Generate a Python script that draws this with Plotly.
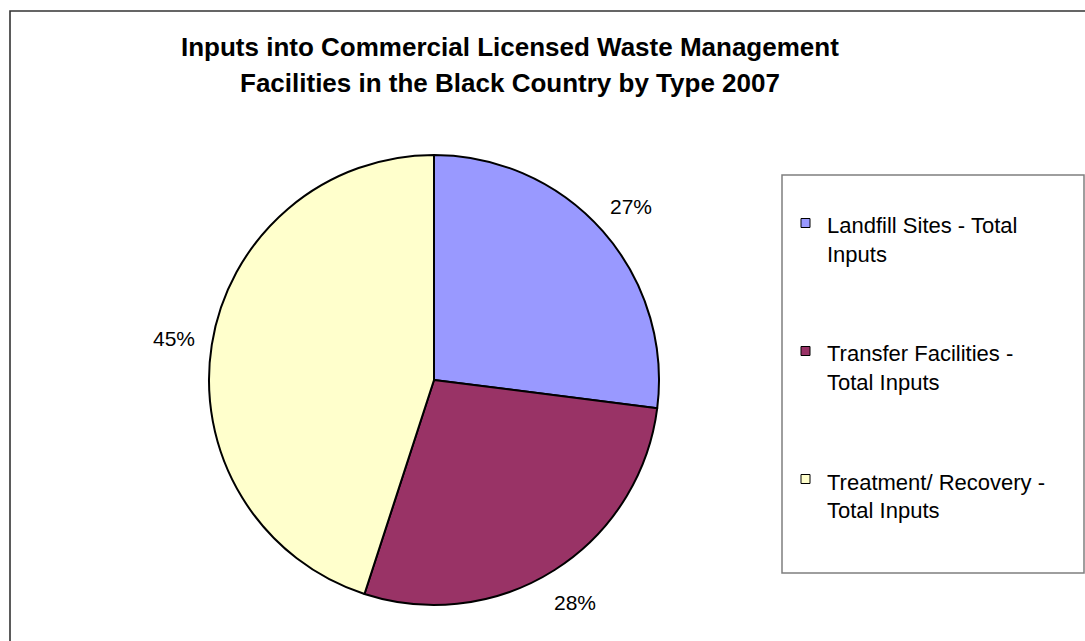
import math
import plotly.graph_objects as go

# Data
categories = [
    "Landfill Sites - Total Inputs",
    "Transfer Facilities - Total Inputs",
    "Treatment/ Recovery - Total Inputs",
]
legend_lines = [
    ["Landfill Sites - Total", "Inputs"],
    ["Transfer Facilities -", "Total Inputs"],
    ["Treatment/ Recovery -", "Total Inputs"],
]
shares = [27, 28, 45]
colors = ["#9999FF", "#993366", "#FFFFCC"]
title_lines = [
    "Inputs into Commercial Licensed Waste Management",
    "Facilities in the Black Country by Type 2007",
]

# Layout geometry (pixels, y measured from the top)
W, H = 1085, 641
cx, cy, R = 434, 380, 225
label_r = 263
FONT = "Liberation Sans, Arial, sans-serif"


def px(x):
    return x / W


def py(y):
    return 1 - y / H


fig = go.Figure(
    go.Pie(
        labels=categories,
        values=shares,
        sort=False,
        direction="clockwise",
        rotation=0,
        marker=dict(colors=colors, line=dict(color="black", width=2)),
        textinfo="none",
        hoverinfo="label+percent",
        domain=dict(x=[px(cx - R), px(cx + R)], y=[py(cy + R), py(cy - R)]),
        showlegend=False,
    )
)

annotations = []
shapes = []

# Percentage labels placed just outside each slice at its mid angle
total = sum(shares)
start = 0.0
for v in shares:
    span = v / total * 360.0
    mid = math.radians(start + span / 2)
    start += span
    lx = cx + label_r * math.sin(mid)
    ly = cy - label_r * math.cos(mid)
    annotations.append(dict(
        x=px(lx), y=py(ly), xref="paper", yref="paper",
        text=f"{v / total * 100:.0f}%", showarrow=False,
        xanchor="center", yanchor="middle",
        font=dict(family=FONT, size=21, color="black"),
    ))

# Title
for i, line in enumerate(title_lines):
    annotations.append(dict(
        x=px(510), y=py(47 + i * 35.5), xref="paper", yref="paper",
        text=f"<b>{line}</b>", showarrow=False,
        xanchor="center", yanchor="middle",
        font=dict(family=FONT, size=26, color="black"),
    ))

# Legend box
shapes.append(dict(
    type="rect", xref="paper", yref="paper",
    x0=px(782), x1=px(1084), y0=py(573), y1=py(175),
    line=dict(color="#7f7f7f", width=1.5), fillcolor="white", layer="below",
))

for i, (lines, col) in enumerate(zip(legend_lines, colors)):
    y0 = 226 + i * 128
    shapes.append(dict(
        type="rect", xref="paper", yref="paper",
        x0=px(801), x1=px(810), y0=py(y0 + 1.5), y1=py(y0 - 7.5),
        line=dict(color="black", width=1), fillcolor=col,
    ))
    for j, t in enumerate(lines):
        annotations.append(dict(
            x=px(825), y=py(y0 + j * 28), xref="paper", yref="paper",
            text=t, showarrow=False, xanchor="left", yanchor="middle",
            font=dict(family=FONT, size=22, color="black"),
        ))

# Chart frame
shapes.append(dict(
    type="rect", xref="paper", yref="paper",
    x0=px(10), x1=px(W + 20), y0=py(H + 20), y1=py(11),
    line=dict(color="#333333", width=1.6), fillcolor="rgba(0,0,0,0)", layer="below",
))

fig.update_layout(
    width=W, height=H,
    margin=dict(l=0, r=0, t=0, b=0),
    paper_bgcolor="white", plot_bgcolor="white",
    annotations=annotations, shapes=shapes,
)

fig.write_html("out.html")
